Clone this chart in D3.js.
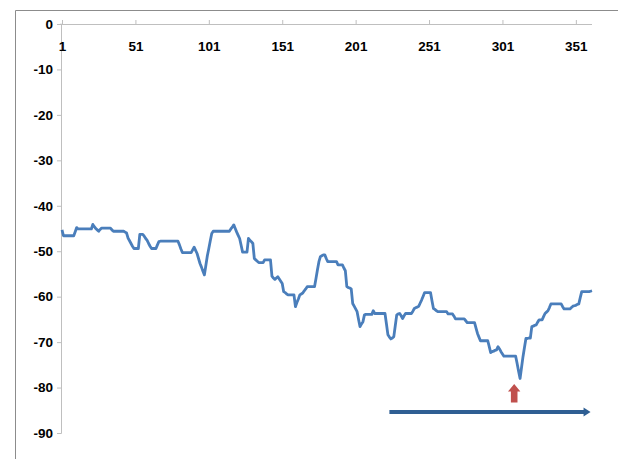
<html>
<head>
<meta charset="utf-8">
<style>
body { margin: 0; background: #fff; }
svg { font-family: "Liberation Sans", Arial, sans-serif; }
.tick text { font-size: 13.5px; font-weight: bold; fill: #000; }
</style>
</head>
<body>
<svg width="618" height="459"></svg>
<script src="https://d3js.org/d3.v7.min.js"></script>
<script>
// daily values, days 1..362
var values = [
  -45.3, -46.6, -46.6, -46.6, -46.6, -46.6, -46.6, -46.6, -46.6, -45.7,
  -44.8, -45.1, -45.1, -45.1, -45.1, -45.1, -45.1, -45.1, -45.1, -45.1,
  -45.1, -44.1, -44.6, -45.0, -45.3, -45.6, -45.2, -44.9, -44.9, -44.9,
  -44.9, -44.9, -44.9, -44.9, -45.3, -45.6, -45.6, -45.6, -45.6, -45.6,
  -45.6, -45.6, -45.6, -45.8, -46.0, -47.1, -47.7, -48.3, -48.9, -49.4,
  -49.4, -49.4, -49.4, -46.3, -46.3, -46.3, -46.7, -47.2, -47.6, -48.3,
  -48.9, -49.4, -49.4, -49.4, -49.4, -48.6, -47.9, -47.8, -47.8, -47.8,
  -47.8, -47.8, -47.8, -47.8, -47.8, -47.8, -47.8, -47.8, -47.8, -47.8,
  -48.6, -49.5, -50.3, -50.3, -50.3, -50.3, -50.3, -50.3, -50.3, -49.7,
  -49.1, -49.8, -50.5, -51.6, -52.7, -53.5, -54.4, -55.2, -53.1, -51.0,
  -49.4, -47.7, -46.1, -45.6, -45.6, -45.6, -45.6, -45.6, -45.6, -45.6,
  -45.6, -45.6, -45.6, -45.6, -45.6, -45.1, -44.7, -44.2, -45.0, -45.8,
  -46.5, -47.2, -48.7, -50.2, -50.2, -50.2, -50.2, -47.2, -47.6, -47.9,
  -48.3, -51.6, -51.9, -52.2, -52.5, -52.5, -52.5, -52.5, -51.9, -51.9,
  -51.9, -51.9, -51.9, -55.5, -55.9, -56.2, -55.9, -55.6, -56.1, -56.6,
  -57.1, -58.9, -59.1, -59.4, -59.6, -59.6, -59.6, -59.6, -59.6, -62.2,
  -61.3, -60.5, -59.6, -59.4, -59.2, -58.7, -58.3, -57.8, -57.8, -57.8,
  -57.8, -57.8, -57.8, -56.0, -54.1, -52.3, -51.2, -51.0, -50.8, -50.8,
  -51.6, -52.3, -52.3, -52.3, -52.3, -52.3, -52.3, -52.3, -53.0, -53.0,
  -53.0, -53.0, -53.7, -54.3, -57.8, -58.0, -58.1, -58.3, -61.5, -62.1,
  -62.7, -63.3, -65.0, -66.6, -66.0, -65.5, -64.0, -63.9, -63.9, -63.9,
  -63.9, -63.9, -63.1, -63.7, -63.7, -63.7, -63.7, -63.7, -63.7, -63.7,
  -63.7, -66.0, -68.4, -68.9, -69.3, -69.1, -68.8, -66.4, -64.0, -63.8,
  -63.7, -64.2, -64.8, -64.2, -63.7, -63.7, -63.7, -63.7, -63.7, -63.2,
  -62.6, -62.4, -62.3, -62.1, -61.4, -60.7, -59.9, -59.1, -59.1, -59.1,
  -59.1, -59.1, -60.9, -62.6, -62.8, -63.1, -63.3, -63.3, -63.3, -63.3,
  -63.3, -63.3, -63.3, -63.8, -63.8, -63.8, -63.8, -64.3, -64.9, -64.9,
  -64.9, -64.9, -64.9, -64.9, -64.9, -65.3, -65.7, -65.7, -65.7, -65.7,
  -65.7, -65.7, -66.9, -68.1, -68.9, -69.7, -69.7, -69.7, -69.7, -69.7,
  -69.7, -71.0, -72.3, -72.1, -72.0, -71.8, -71.7, -71.0, -71.5, -72.1,
  -72.6, -73.1, -73.1, -73.1, -73.1, -73.1, -73.1, -73.1, -73.1, -73.1,
  -74.7, -76.4, -78.0, -75.6, -73.2, -71.2, -69.2, -69.2, -69.1, -69.1,
  -66.6, -66.5, -66.3, -66.2, -65.6, -65.1, -65.1, -65.1, -64.4, -63.7,
  -63.4, -63.1, -62.4, -61.6, -61.6, -61.6, -61.6, -61.6, -61.6, -61.6,
  -61.6, -62.2, -62.7, -62.7, -62.7, -62.7, -62.7, -62.4, -62.1, -62.0,
  -61.9, -61.7, -61.6, -60.2, -58.9, -58.9, -58.9, -58.9, -58.9, -58.9,
  -58.8, -58.7
]
var days = values.map(function (v, i) { return i + 1 })
var xTicks = [1, 51, 101, 151, 201, 251, 301, 351]
var yTicks = [0, -10, -20, -30, -40, -50, -60, -70, -80, -90]

// annotations: red up-arrow under the low, blue arrow along the bottom
var markerArrow = { day: 309, from: -83.3, to: -79.2 }
var spanArrow = { from: 224, to: 361, level: -85.4 }

const svg = d3.select('svg')
const plain = function (d) { return String(d) }

// outer frame
svg.append('path')
    .attr('d', 'M15.5,459 V10.5 H618')
    .attr('fill', 'none')
    .attr('stroke', '#8c8c8c')
    .attr('stroke-width', 1)

const x = d3.scaleLinear().domain([1, 362]).range([62, 592])
const y = d3.scaleLinear().domain([-90, 0]).range([433, 24])

// y axis
const yAxis = svg.append('g')
    .attr('transform', 'translate(61,0)')
    .call(d3.axisLeft(y).tickValues(yTicks).tickSize(4).tickPadding(4).tickFormat(plain))
yAxis.select('.domain').attr('stroke', '#bfbfbf')
yAxis.selectAll('.tick line').attr('stroke', '#bfbfbf')

// x axis sits on the zero line, labels underneath, ticks pointing up
const xAxis = svg.append('g')
    .attr('transform', 'translate(0,' + y(0) + ')')
    .call(d3.axisTop(x).tickValues(xTicks).tickSize(4).tickFormat(plain))
xAxis.select('.domain').attr('stroke', '#bfbfbf').attr('d', 'M61,-0.5V0.5H592')
xAxis.selectAll('.tick line').attr('stroke', '#bfbfbf')
xAxis.selectAll('.tick text').attr('y', 17).attr('dy', '0.71em')

const line = d3.line()
    .x(function (d, i) { return x(days[i]) })
    .y(function (d) { return y(d) })

svg.append('path')
    .datum(values)
    .attr('fill', 'none')
    .attr('stroke', '#4a7ebb')
    .attr('stroke-width', 2.8)
    .attr('stroke-linejoin', 'round')
    .attr('d', line)

// red arrow
const ax = x(markerArrow.day), ab = y(markerArrow.from), at = y(markerArrow.to)
svg.append('path')
    .attr('d', 'M' + (ax - 3.3) + ',' + ab + 'V' + (at + 7.5) + 'H' + (ax - 6.2) +
        'L' + ax + ',' + at + 'L' + (ax + 6.2) + ',' + (at + 7.5) + 'H' + (ax + 3.3) + 'V' + ab + 'Z')
    .attr('fill', '#c0504d')

// blue arrow
const sy = y(spanArrow.level), sx0 = x(spanArrow.from), sx1 = x(spanArrow.to)
svg.append('line')
    .attr('x1', sx0).attr('x2', sx1 - 5)
    .attr('y1', sy).attr('y2', sy)
    .attr('stroke', '#2f5f93')
    .attr('stroke-width', 4)
svg.append('path')
    .attr('d', 'M' + (sx1 - 7) + ',' + (sy - 4.5) + 'L' + sx1 + ',' + sy + 'L' + (sx1 - 7) + ',' + (sy + 4.5) + 'Z')
    .attr('fill', '#2f5f93')
</script>
</body>
</html>
